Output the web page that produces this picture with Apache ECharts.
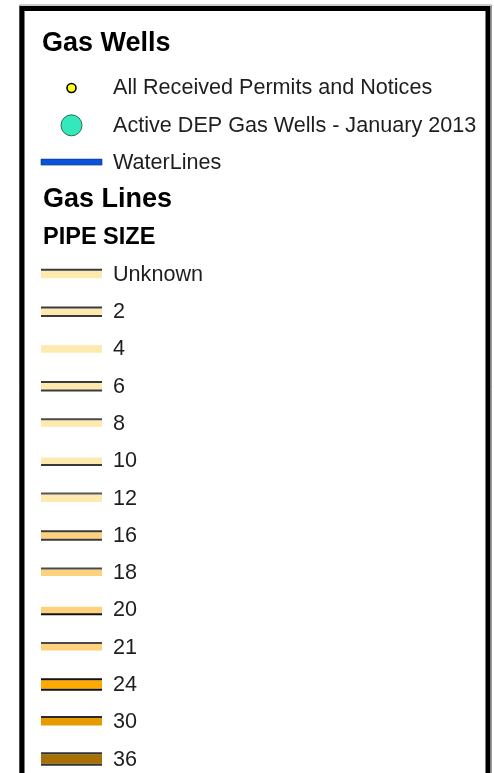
<!DOCTYPE html>
<html>
<head>
<meta charset="utf-8">
<script src="https://cdn.jsdelivr.net/npm/echarts@6/dist/echarts.min.js"></script>
<style>
html, body { margin: 0; padding: 0; background: #fff; }
#main { width: 494px; height: 773px; }
</style>
</head>
<body>
<div id="main"></div>
<script>
(function() {
	'use strict';
	// legend content
	var wellTitle = 'Gas Wells';
	var wellLabels = [ 'All Received Permits and Notices', 'Active DEP Gas Wells - January 2013' ];
	var waterLabel = 'WaterLines';
	var lineTitle = 'Gas Lines';
	var sizeTitle = 'PIPE SIZE';
	var pipeSizes = [ 'Unknown', '2', '4', '6', '8', '10', '12', '16', '18', '20', '21', '24', '30', '36' ];

	// symbol styles
	var wellStyles = [
		{ r: 4.5, fill: '#ffff1a', stroke: '#000', lw: 1.6 },
		{ r: 10.5, fill: '#33e8ba', stroke: '#2a6a55', lw: 1 }
	];
	var pipeColors = [ '#fee9ae', '#fee9ae', '#fee9ae', '#fee9ae', '#fee9ae', '#fee9ae', '#fee9ae',
		'#fed27d', '#fed27d', '#fed27d', '#fed27d', '#ffaa00', '#e69c00', '#a87000' ];
	var pipeEdges = [ 'top', 'both', 'none', 'both', 'top', 'bottom', 'top',
		'both', 'top', 'bottom', 'top', 'both', 'top', 'both' ];
	var pipeWidths = [ 7.5, 6.5, 7.5, 6.5, 6.5, 6.5, 7.5, 6.5, 6.5, 6.5, 6.5, 8.5, 7.5, 9.5 ];
	var edgeColors = [ '#3a3a3a', '#3a3a3a', '#3a3a3a', '#3a3a3a', '#4a4a4a', '#3a3a3a', '#555',
		'#3a3a3a', '#4a4a4a', '#111', '#4a4a4a', '#111', '#2a2a2a', '#333' ];

	var font = '"Liberation Sans", Arial, Helvetica, sans-serif';

	// one row per legend line, top to bottom
	var rows = [];
	wellLabels.forEach( function( t, i ) { rows.push( { kind: 'well', idx: i, text: t } ); } );
	rows.push( { kind: 'water', text: waterLabel } );
	rows.push( { kind: 'head', text: lineTitle } );
	rows.push( { kind: 'sub', text: sizeTitle } );
	pipeSizes.forEach( function( t, i ) { rows.push( { kind: 'pipe', idx: i, text: t } ); } );

	var rowData = rows.map( function( r, i ) { return [ 0.5, i ]; } );

	function renderRow( params, api ) {
		var r = rows[ params.dataIndex ];
		var v = api.value( 1 );
		var a = api.coord( [ 0, v ] ), b = api.coord( [ 1, v ] );
		var y = a[ 1 ], x0 = a[ 0 ], x1 = b[ 0 ];
		var labelX = api.coord( [ 1.18, v ] )[ 0 ];
		var kids = [];
		function label( txt ) {
			kids.push( { type: 'text', x: labelX, y: y + 0.5, style: {
				text: txt, fill: '#1e1e1e', font: '21.6px ' + font,
				align: 'left', verticalAlign: 'middle'
			} } );
		}
		if ( r.kind === 'well' ) {
			var ws = wellStyles[ r.idx ];
			kids.push( { type: 'circle', shape: { cx: ( x0 + x1 ) / 2, cy: y, r: ws.r },
				style: { fill: ws.fill, stroke: ws.stroke, lineWidth: ws.lw } } );
			label( r.text );
		} else if ( r.kind === 'water' ) {
			kids.push( { type: 'rect', shape: { x: x0, y: y - 3.5, width: x1 - x0, height: 6 },
				style: { fill: '#0852dc', stroke: '#14306e', lineWidth: 0.6 } } );
			label( r.text );
		} else if ( r.kind === 'head' || r.kind === 'sub' ) {
			kids.push( { type: 'text', x: x0 + 2, y: y, style: {
				text: r.text, fill: '#000',
				font: 'bold ' + ( r.kind === 'head' ? 27 : 23.5 ) + 'px ' + font,
				align: 'left', verticalAlign: 'middle'
			} } );
		} else {
			var w = pipeWidths[ r.idx ], e = pipeEdges[ r.idx ], ec = edgeColors[ r.idx ];
			var top = y - w / 2;
			kids.push( { type: 'rect', shape: { x: x0, y: top, width: x1 - x0, height: w },
				style: { fill: pipeColors[ r.idx ] } } );
			if ( e === 'top' || e === 'both' ) {
				kids.push( { type: 'rect', shape: { x: x0, y: top - 2, width: x1 - x0, height: 2 },
					style: { fill: ec } } );
			}
			if ( e === 'bottom' || e === 'both' ) {
				kids.push( { type: 'rect', shape: { x: x0, y: top + w, width: x1 - x0, height: 2 },
					style: { fill: ec } } );
			}
			label( r.text );
		}
		return { type: 'group', children: kids };
	}

	var chart = echarts.init( document.getElementById( 'main' ), null, { renderer: 'canvas' } );
	chart.setOption( {
		animation: false,
		backgroundColor: '#fff',
		title: {
			text: wellTitle,
			left: 42,
			top: 30,
			padding: 0,
			textStyle: { color: '#000', fontSize: 27, fontWeight: 'bold', fontFamily: font }
		},
		// 18.8 rows at 37.28px each, kept inside the page
		grid: { left: 41, width: 61, top: 69.4, height: 700.9 },
		xAxis: { type: 'value', min: 0, max: 1, show: false },
		yAxis: { type: 'value', min: -0.5, max: 18.3, inverse: true, show: false },
		graphic: [
			{ type: 'rect', shape: { x: 19.5, y: 5, width: 472, height: 800 },
				style: { fill: null, stroke: '#9a9a9a', lineWidth: 1 }, z: 1 },
			{ type: 'rect', shape: { x: 22, y: 8.5, width: 466, height: 800 },
				style: { fill: null, stroke: '#000', lineWidth: 5 }, z: 2 }
		],
		series: [ {
			type: 'custom',
			renderItem: renderRow,
			data: rowData,
			clip: false,
			silent: true
		} ]
	} );
} )();
</script>
</body>
</html>
